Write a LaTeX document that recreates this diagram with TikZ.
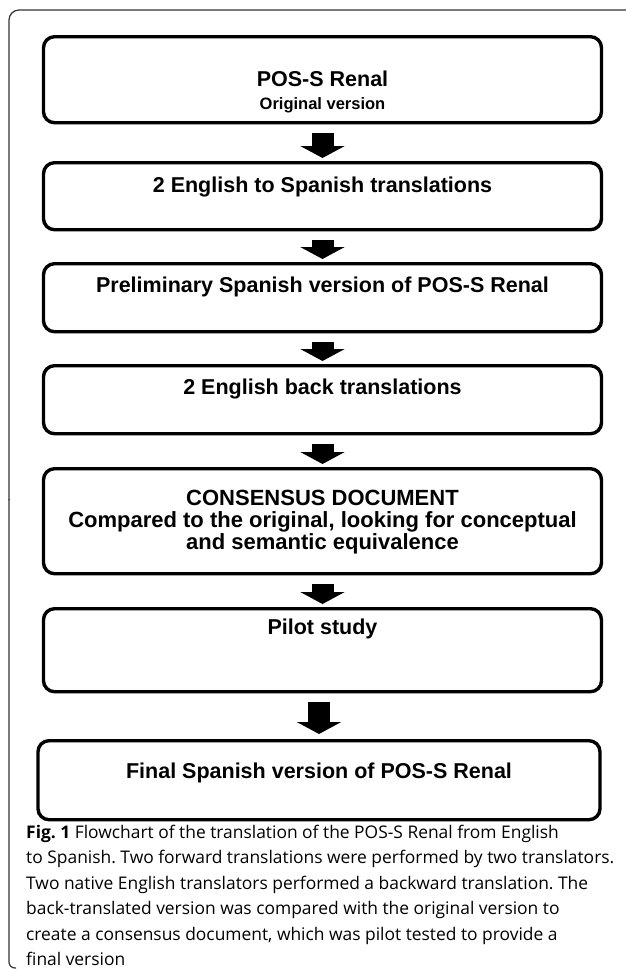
\documentclass[tikz,border=0pt]{standalone}
\usepackage{fontspec}
\setmainfont{Liberation Sans}
\newfontfamily\capfont{Open Sans}
\usetikzlibrary{arrows.meta}
\begin{document}
\begin{tikzpicture}[x=1pt,y=-1pt,
  stepbox/.style={draw=black, line width=3.4pt, rounded corners=11pt,
    minimum width=558pt, inner xsep=0pt, inner ysep=0pt, anchor=north,
    font=\bfseries\fontsize{21.5}{23}\selectfont},
  flowarrow/.style={line width=22pt, -{Triangle[width=44pt,length=12pt]},
    shorten <=9pt, shorten >=3pt},
  frameline/.style={draw=black!80, line width=1.2pt}]
\useasboundingbox (0,0) rectangle (625,970);
% outer frame
\draw[frameline, rounded corners=10pt] (626,10) -- (9,10) -- (9,500);
\draw[frameline, rounded corners=6pt] (9,499) -- (9,968) -- (16,968);
% boxes
\node[stepbox, text height=50pt, text depth=36pt] (b1) at (322.5,35)
  {\begin{tabular}[t]{@{}c@{}}{\fontsize{21.5}{23}\selectfont POS-S Renal}\\[0pt]
   {\fontsize{16.5}{18}\selectfont Original version}\end{tabular}};
\node[stepbox, text height=30pt, text depth=37pt] (b2) at (322.5,161)
  {2 English to Spanish translations};
\node[stepbox, text height=29pt, text depth=39pt] (b3) at (322.5,262)
  {Preliminary Spanish version of POS-S Renal};
\node[stepbox, text height=29pt, text depth=39pt] (b4) at (322.5,364)
  {2 English back translations};
\node[stepbox, font=\bfseries\fontsize{22}{20.5}\selectfont,
  text height=37pt, text depth=68pt] (b5) at (322.5,467)
  {\begin{tabular}[t]{@{}c@{}}CONSENSUS DOCUMENT\\
   Compared to the original, looking for conceptual\\
   and semantic equivalence\end{tabular}};
\node[stepbox, text height=26pt, text depth=57pt] (b6) at (322.5,607)
  {Pilot study};
\node[stepbox, minimum width=562pt, text height=38pt, text depth=41pt] (b7) at (319,739)
  {Final Spanish version of POS-S Renal};
% arrows
\draw[flowarrow] (b1.south) -- (b2.north);
\draw[flowarrow] (b2.south) -- (b3.north);
\draw[flowarrow] (b3.south) -- (b4.north);
\draw[flowarrow] (b4.south) -- (b5.north);
\draw[flowarrow] (b5.south) -- (b6.north);
\draw[flowarrow, shorten >=5pt] (b6.south -| b7.north) -- (b7.north);
% caption
\node[anchor=north west, align=left, inner sep=0pt,
  font=\capfont\frenchspacing\fontsize{17.4}{25.4}\selectfont] (cap) at (26,825)
  {\textbf{Fig. 1} Flowchart of the translation of the POS-S Renal from English\\
   to Spanish. Two forward translations were performed by two translators.\\
   Two native English translators performed a backward translation. The\\
   back-translated version was compared with the original version to\\
   create a consensus document, which was pilot tested to provide a\\
   final version};
\end{tikzpicture}
\end{document}
